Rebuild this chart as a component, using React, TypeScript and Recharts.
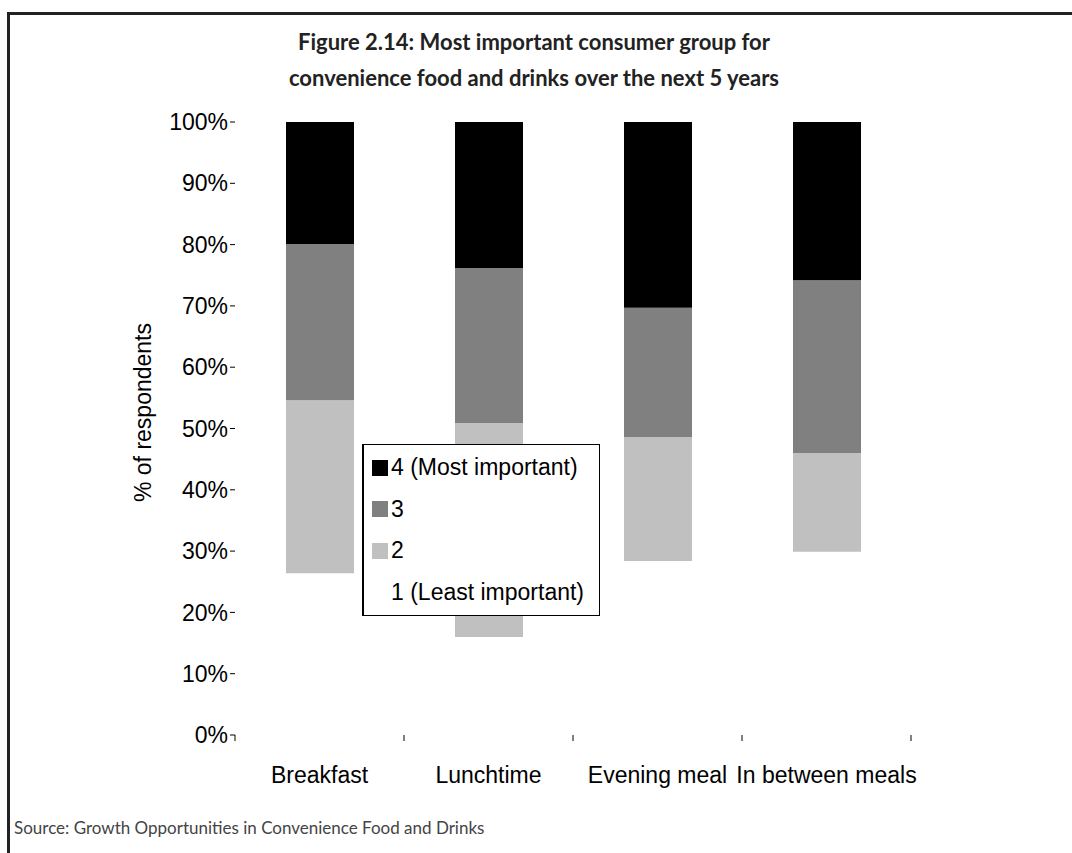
import { BarChart, Bar, XAxis, YAxis, Legend } from "recharts";

const meals = ["Breakfast", "Lunchtime", "Evening meal", "In between meals"];
const least = [26.4, 16.0, 28.4, 29.9];
const two = [28.2, 34.9, 20.2, 16.1];
const three = [25.5, 25.3, 21.1, 28.2];
const most = [19.9, 23.8, 30.3, 25.8];
const yTicks = [0, 10, 20, 30, 40, 50, 60, 70, 80, 90, 100];

const series = [
  { key: "least", name: "1 (Least important)", color: "#ffffff" },
  { key: "two", name: "2", color: "#c0c0c0" },
  { key: "three", name: "3", color: "#808080" },
  { key: "most", name: "4 (Most important)", color: "#000000" },
];

const data = meals.map((meal, i) => ({
  meal,
  least: least[i],
  two: two[i],
  three: three[i],
  most: most[i],
}));

const axisFont = "'Liberation Sans', Arial, sans-serif";
const band = 169;

const MealTick = (props: any) => {
  const { x, y, payload, index } = props;
  return (
    <g>
      {index === 0 && (
        <line x1={x - band / 2} x2={x - band / 2} y1={y} y2={y + 6} stroke="#000" />
      )}
      <line x1={x + band / 2} x2={x + band / 2} y1={y} y2={y + 6} stroke="#000" />
      <text x={x} y={y + 48} textAnchor="middle" fill="#000" fontSize={23} fontFamily={axisFont}>
        {payload.value}
      </text>
    </g>
  );
};

const LegendBox = () => (
  <div
    style={{
      width: 238,
      height: 172,
      border: "1px solid #000",
      borderLeft: "2px solid #000",
      background: "#fff",
      boxSizing: "border-box",
      paddingTop: 2,
      fontFamily: axisFont,
      fontSize: 23,
      color: "#000",
      textAlign: "left",
    }}
  >
    {[...series].reverse().map((s) => (
      <div key={s.key} style={{ display: "flex", alignItems: "center", height: 41.5, paddingLeft: 8 }}>
        <span style={{ width: 16, height: 16, background: s.color, marginRight: 3, display: "inline-block" }} />
        <span>{s.name}</span>
      </div>
    ))}
  </div>
);

export default function App() {
  return (
    <div style={{ position: "absolute", left: 0, top: 0, width: 1072, height: 853, background: "#fff" }}>
      <div
        style={{
          position: "absolute",
          left: 7,
          top: 12,
          right: 0,
          bottom: 0,
          borderLeft: "3px solid #222",
          borderTop: "3px solid #222",
        }}
      />
      <div
        style={{
          position: "absolute",
          left: 0,
          top: 24,
          width: 1068,
          textAlign: "center",
          fontFamily: "Lato, 'Open Sans', sans-serif",
          fontWeight: 700,
          fontSize: 22,
          lineHeight: "36px",
          color: "#222",
        }}
      >
        Figure 2.14: Most important consumer group for
        <br />
        convenience food and drinks over the next 5 years
      </div>
      <div style={{ position: "absolute", left: 0, top: 0 }}>
        <BarChart
          width={1072}
          height={853}
          data={data}
          margin={{ top: 122, right: 161, bottom: 78, left: 135 }}
        >
          <XAxis
            dataKey="meal"
            axisLine={false}
            tickLine={false}
            tickSize={0}
            tickMargin={0}
            height={40}
            tick={<MealTick />}
            interval={0}
          />
          <YAxis
            width={100}
            domain={[0, 100]}
            ticks={yTicks}
            interval={0}
            axisLine={false}
            tickSize={5}
            tickMargin={2}
            tickLine={{ stroke: "#000" }}
            tickFormatter={(v: number) => `${v}%`}
            tick={{ fill: "#000", fontSize: 23, fontFamily: axisFont }}
            label={{
              content: (p: any) => {
                const vb = p.viewBox || { x: 135, y: 122, height: 613 };
                const cx = vb.x + 8;
                const cy = vb.y + vb.height / 2 - 16;
                return (
                  <text
                    x={cx}
                    y={cy}
                    transform={`rotate(-90 ${cx} ${cy})`}
                    textAnchor="middle"
                    dominantBaseline="central"
                    fill="#000"
                    fontSize={23}
                    fontFamily={axisFont}
                  >
                    % of respondents
                  </text>
                );
              },
            }}
          />
          {series.map((s) => (
            <Bar
              key={s.key}
              dataKey={s.key}
              name={s.name}
              stackId="a"
              fill={s.color}
              barSize={68}
              isAnimationActive={false}
            />
          ))}
          <Legend
            layout="horizontal"
            verticalAlign="middle"
            content={<LegendBox />}
            wrapperStyle={{ position: "absolute", left: 362, top: 444, width: 238, height: 172 }}
          />
        </BarChart>
      </div>
      <div
        style={{
          position: "absolute",
          left: 14,
          top: 818,
          fontFamily: "Lato, 'Open Sans', sans-serif",
          fontSize: 17,
          lineHeight: "20px",
          color: "#444",
        }}
      >
        Source: Growth Opportunities in Convenience Food and Drinks
      </div>
    </div>
  );
}
